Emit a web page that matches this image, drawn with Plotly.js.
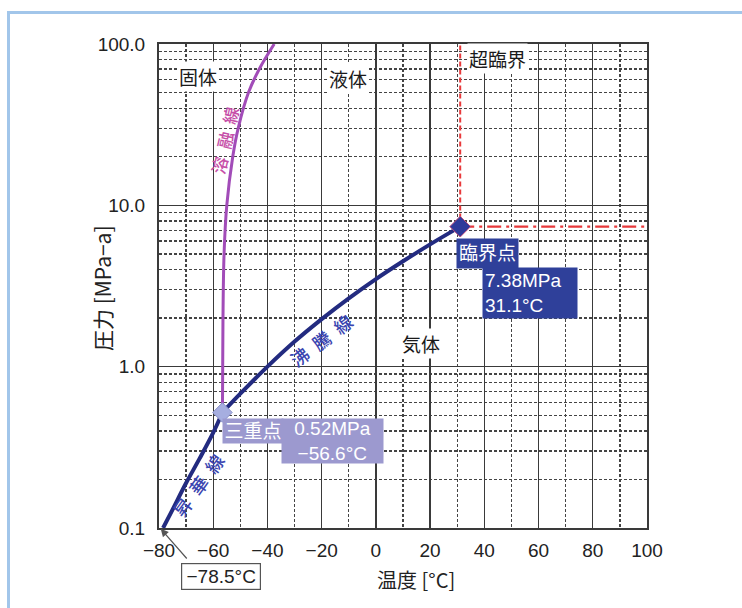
<!DOCTYPE html>
<html>
<head>
<meta charset="utf-8">
<script src="https://cdn.plot.ly/plotly-3.0.1.min.js"></script>
<style>
  html, body { margin: 0; padding: 0; background: #ffffff; }
  #wrap { position: relative; width: 742px; height: 608px; overflow: hidden; }
  #chart { width: 742px; height: 608px; }
  #frame { position: absolute; left: 7px; top: 11px; width: 900px; height: 800px;
           border-top: 3px solid #a2c6ea; border-left: 3px solid #a2c6ea; pointer-events: none; }
</style>
</head>
<body>
<div id="wrap">
  <div id="chart"></div>
  <div id="frame"></div>
</div>
<script>
// ---- data ----
const subT  = [-78.5, -75, -70, -65, -60, -56.6];
const subP  = [0.10, 0.13, 0.19, 0.27, 0.39, 0.52];
const boilT = [-56.6, -50, -40, -30, -20, -10, 0, 10, 20, 31.1];
const boilP = [0.52, 0.68, 1.00, 1.43, 1.97, 2.65, 3.49, 4.50, 5.73, 7.38];
const meltT = [-56.6, -56.5, -56.4, -56.0, -55.0, -52.8, -50.8, -47.0, -43.0, -37.5];
const meltP = [0.52, 1, 2, 5, 10, 20, 30, 50, 70, 100];
const critT = 31.1, critP = 7.38;
const tripleT = -56.6, tripleP = 0.52;
const startT = -78.5;
const xMin = -80, xMax = 100;
const pMin = 0.1, pMax = 100;
const yTickVals = [0.1, 1, 10, 100];
const yTickText = ['0.1', '1.0', '10.0', '100.0'];
const yMinorVals = [0.2,0.3,0.4,0.5,0.6,0.7,0.8,0.9, 2,3,4,5,6,7,8,9, 20,30,40,50,60,70,80,90];

const fmtT = v => (v < 0 ? '\u2212' + Math.abs(v) : String(v)) + '°C';
const NAVY = '#232b80';
const BOX_DARK = '#2f409a';
const BOX_LIGHT = '#9c99cf';
const FONT = 'Liberation Sans, Arial, "Noto Sans CJK JP", sans-serif';
const JFONT = '"Noto Sans CJK JP", "Liberation Sans", sans-serif';
const SP = '\u2002';

const traces = [
  { x: subT, y: subP, mode: 'lines', line: { color: NAVY, width: 4, shape: 'spline' }, hoverinfo: 'skip' },
  { x: boilT, y: boilP, mode: 'lines', line: { color: NAVY, width: 4, shape: 'spline' }, hoverinfo: 'skip' },
  { x: meltT, y: meltP, mode: 'lines', line: { color: '#a24cb8', width: 3, shape: 'spline' }, hoverinfo: 'skip' },
  { x: [critT, critT], y: [critP, pMax], mode: 'lines', line: { color: '#e8383a', width: 2, dash: '5px,3px' }, hoverinfo: 'skip' },
  { x: [critT, xMax], y: [critP, critP], mode: 'lines', line: { color: '#e8383a', width: 2.2, dash: '14px,5px,3px,5px' }, hoverinfo: 'skip' },
  { x: [tripleT], y: [tripleP], mode: 'markers', marker: { symbol: 'diamond', size: 15, color: '#a6aee0', line: { color: '#8890c8', width: 1 } }, hoverinfo: 'skip' },
  { x: [critT], y: [critP], mode: 'markers', marker: { symbol: 'diamond', size: 16, color: '#2d3a9a', line: { color: '#c05080', width: 1 } }, hoverinfo: 'skip' }
];

const plotL = 159, plotR = 647, plotT = 44, plotB = 528;
const px = p => (p - plotL) / (plotR - plotL);
const py = p => (plotB - p) / (plotB - plotT);

function region(text, cx, cy, size) {
  return { xref: 'paper', yref: 'paper', x: px(cx), y: py(cy), xanchor: 'center', yanchor: 'middle',
           text: text, showarrow: false, bgcolor: '#ffffff', borderpad: 1,
           font: { family: JFONT, size: size || 19, color: '#1a1a1a' } };
}
function along(text, cx, cy, ang, color, size) {
  return { xref: 'paper', yref: 'paper', x: px(cx), y: py(cy), xanchor: 'center', yanchor: 'middle',
           text: text, showarrow: false, textangle: ang,
           font: { family: JFONT, size: size, color: color, weight: 500 } };
}
function box(text, x0, y0, x1, y1, bg, align, size) {
  return { xref: 'paper', yref: 'paper', x: px((x0 + x1) / 2), y: py((y0 + y1) / 2),
           xanchor: 'center', yanchor: 'middle', width: (x1 - x0) - 4, height: (y1 - y0) - 4,
           borderpad: 2, text: text, showarrow: false, bgcolor: bg, align: align || 'center', valign: 'middle',
           font: { family: FONT, size: size || 18, color: '#ffffff' } };
}

const annotations = [
  region('固体', 198, 76),
  region('液体', 348, 78),
  region('超臨界', 497, 58),
  region('気体', 421, 343),
  along('溶' + SP + '融' + SP + '線', 224, 140, -77, '#c64fa8', 17),
  along('沸' + SP + '騰' + SP + '線', 321, 340, -37, '#3a45b0', 18),
  along('昇' + SP + '華' + SP + '線', 198, 485, -54, '#3a45b0', 18),
  box('臨界点', 457, 239, 518, 268, BOX_DARK, 'center', 19),
  box(critP + 'MPa<br>' + fmtT(critT), 483, 268, 577, 318, BOX_DARK, 'left', 19),
  box('三重点', 223, 419, 283, 443, BOX_LIGHT, 'center', 19),
  box(tripleP + 'MPa<br>' + fmtT(tripleT), 282, 419, 383, 463, BOX_LIGHT, 'center', 19),
  { xref: 'paper', yref: 'paper', x: px(221), y: py(576.5), xanchor: 'center', yanchor: 'middle',
    width: 74, height: 21, borderpad: 2, borderwidth: 1.2, bordercolor: '#555555', bgcolor: '#ffffff',
    text: fmtT(startT), showarrow: false, font: { family: FONT, size: 19, color: '#222222' } },
  { x: xMin + 0.4, y: Math.log10(pMin), xref: 'x', yref: 'y', text: '', showarrow: true,
    ax: 28, ay: 32, arrowhead: 2, arrowsize: 1.3, arrowwidth: 1.2, arrowcolor: '#555555', standoff: 1 },
  { xref: 'paper', yref: 'paper', x: px(416), y: py(579), xanchor: 'center', yanchor: 'middle',
    text: '温度 [°C]', showarrow: false, font: { family: JFONT, size: 20, color: '#222222' } },
  { xref: 'paper', yref: 'paper', x: px(102), y: py(288), xanchor: 'center', yanchor: 'middle', textangle: -90,
    text: '圧力 [MPa−a]', showarrow: false, font: { family: JFONT, size: 21, color: '#222222' } }
];

const layout = {
  width: 742, height: 608,
  margin: { l: plotL, r: 742 - plotR, t: plotT, b: 608 - plotB, pad: 0 },
  paper_bgcolor: '#ffffff', plot_bgcolor: '#ffffff',
  showlegend: false,
  font: { family: FONT, size: 18, color: '#222222' },
  xaxis: {
    range: [xMin, xMax], tickmode: 'linear', tick0: -80, dtick: 20,
    showgrid: true, gridcolor: '#3a3a3a', gridwidth: 1.3, zeroline: false,
    showline: true, mirror: true, linecolor: '#3a3a3a', linewidth: 2,
    ticks: 'outside', ticklen: 4, tickcolor: 'rgba(0,0,0,0)',
    tickfont: { family: FONT, size: 19, color: '#222222' },
    minor: { dtick: 10, tick0: -80, showgrid: true, gridcolor: '#444444', gridwidth: 1.3, griddash: '3px,2px' }
  },
  yaxis: {
    type: 'log', range: [Math.log10(pMin), Math.log10(pMax)],
    tickmode: 'array', tickvals: yTickVals, ticktext: yTickText,
    showgrid: true, gridcolor: '#3a3a3a', gridwidth: 1.3, zeroline: false,
    showline: true, mirror: true, linecolor: '#3a3a3a', linewidth: 2,
    ticks: 'outside', ticklen: 8, tickcolor: 'rgba(0,0,0,0)',
    tickfont: { family: FONT, size: 19, color: '#222222' },
    minor: { tickmode: 'array', tickvals: yMinorVals, showgrid: true, gridcolor: '#444444', gridwidth: 1.3, griddash: '3px,2px' }
  },
  annotations: annotations
};

Plotly.newPlot('chart', traces, layout, { displayModeBar: false, staticPlot: true });
</script>
</body>
</html>
